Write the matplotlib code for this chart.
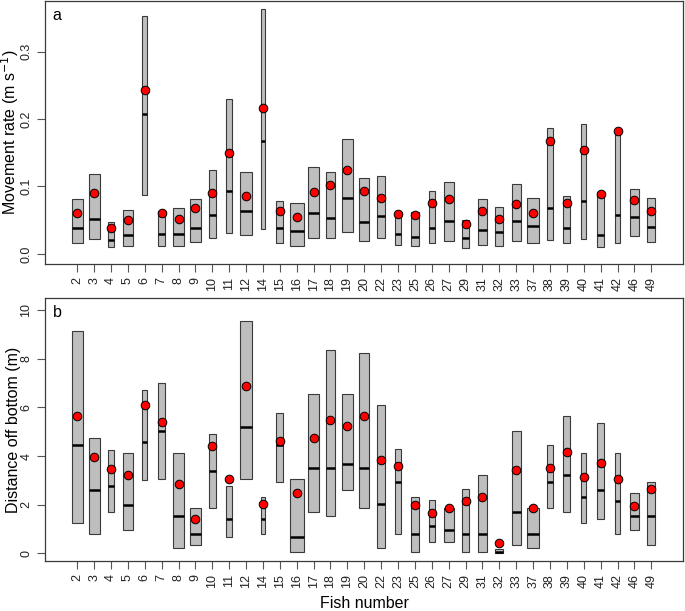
import matplotlib
matplotlib.use("Agg")
import matplotlib.pyplot as plt
from matplotlib.patches import Rectangle

plt.rcParams['font.family'] = ['Liberation Sans', 'DejaVu Sans']

fish = [2, 3, 4, 5, 6, 7, 8, 9, 10, 11, 12, 14, 15, 16, 17, 18, 19, 20, 22, 23,
        25, 26, 27, 29, 31, 32, 33, 37, 38, 39, 40, 41, 42, 46, 49]

# relative box widths (same in both panels)
widths = [0.63, 0.65, 0.30, 0.63, 0.29, 0.41, 0.61, 0.64, 0.45, 0.36, 0.67, 0.26,
          0.43, 0.83, 0.65, 0.52, 0.61, 0.59, 0.49, 0.34, 0.51, 0.34, 0.59, 0.43,
          0.57, 0.48, 0.51, 0.67, 0.34, 0.41, 0.32, 0.40, 0.28, 0.56, 0.49]

# panel a: movement rate (m/s)
rate_low = [0.016, 0.022, 0.010, 0.011, 0.088, 0.012, 0.011, 0.017, 0.023, 0.031,
            0.028, 0.037, 0.016, 0.012, 0.024, 0.023, 0.033, 0.019, 0.024, 0.013,
            0.011, 0.016, 0.019, 0.009, 0.013, 0.012, 0.019, 0.016, 0.020, 0.016,
            0.022, 0.010, 0.016, 0.026, 0.017]
rate_high = [0.082, 0.118, 0.047, 0.065, 0.353, 0.064, 0.068, 0.081, 0.124, 0.230,
             0.121, 0.363, 0.079, 0.075, 0.129, 0.121, 0.171, 0.113, 0.116, 0.064,
             0.062, 0.093, 0.106, 0.050, 0.082, 0.069, 0.104, 0.083, 0.187, 0.086,
             0.193, 0.092, 0.183, 0.096, 0.083]
rate_median = [0.039, 0.051, 0.021, 0.028, 0.207, 0.029, 0.029, 0.038, 0.058, 0.093,
               0.064, 0.168, 0.038, 0.034, 0.061, 0.053, 0.083, 0.048, 0.056, 0.030,
               0.025, 0.039, 0.049, 0.023, 0.036, 0.033, 0.049, 0.041, 0.068, 0.039,
               0.079, 0.028, 0.058, 0.055, 0.040]
rate_mean = [0.061, 0.091, 0.038, 0.050, 0.243, 0.061, 0.051, 0.068, 0.090, 0.150,
             0.086, 0.216, 0.064, 0.055, 0.092, 0.102, 0.124, 0.094, 0.083, 0.059,
             0.058, 0.075, 0.081, 0.045, 0.063, 0.051, 0.074, 0.060, 0.168, 0.076,
             0.154, 0.089, 0.183, 0.080, 0.064]

# panel b: distance off bottom (m)
dist_low = [1.25, 0.80, 1.70, 0.95, 3.00, 3.07, 0.21, 0.34, 1.85, 0.66, 3.07, 0.80,
            2.92, 0.04, 1.70, 1.55, 2.62, 1.85, 0.21, 0.80, 0.04, 0.49, 0.49, 0.04,
            0.04, 0.03, 0.34, 0.21, 1.87, 1.71, 1.25, 1.41, 0.80, 0.95, 0.34]
dist_high = [9.14, 4.73, 4.27, 4.14, 6.71, 7.01, 4.13, 1.87, 4.90, 2.76, 9.57, 2.32,
             5.79, 3.07, 6.56, 8.37, 6.56, 8.22, 6.10, 4.28, 2.32, 2.18, 1.87, 2.63,
             3.22, 0.19, 5.05, 1.87, 4.44, 5.65, 4.13, 5.35, 4.13, 2.47, 2.92]
dist_median = [4.44, 2.62, 2.77, 2.00, 4.58, 5.03, 1.55, 0.80, 3.39, 1.41, 5.21, 1.41,
               4.44, 0.66, 3.53, 3.53, 3.69, 3.53, 2.02, 2.94, 0.80, 1.11, 0.95, 0.80,
               0.80, 0.07, 1.71, 0.80, 2.92, 3.22, 2.32, 2.62, 2.17, 1.55, 1.55]
dist_mean = [5.67, 3.98, 3.46, 3.24, 6.10, 5.42, 2.87, 1.41, 4.42, 3.05, 6.90, 2.02,
             4.62, 2.48, 4.75, 5.49, 5.23, 5.67, 3.83, 3.58, 2.00, 1.67, 1.87, 2.17,
             2.32, 0.44, 3.42, 1.87, 3.51, 4.18, 3.13, 3.73, 3.06, 1.96, 2.66]

pos = list(range(1, len(fish) + 1))
edge = '#3a3a3a'


def draw_panel(ax, low, high, med, mean):
    for x, w, lo, hi, md in zip(pos, widths, low, high, med):
        ax.add_patch(Rectangle((x - w / 2, lo), w, hi - lo, facecolor='#bebebe',
                               edgecolor=edge, linewidth=0.8, zorder=2))
        ax.plot([x - w / 2, x + w / 2], [md, md], color='black', lw=1.8,
                solid_capstyle='butt', zorder=3)
    ax.plot(pos, mean, 'o', ms=6.2, markerfacecolor='red', markeredgecolor='black',
            markeredgewidth=0.7, zorder=4)
    ax.set_xlim(-0.91, 36.88)
    ax.set_xticks(pos)
    ax.set_xticklabels([str(f) for f in fish], rotation=90, fontsize=9)
    for s in ax.spines.values():
        s.set_color(edge)
        s.set_linewidth(0.9)
    ax.tick_params(axis='both', direction='out', length=5.5, width=0.8, color='#555555',
                   labelcolor='#222222')
    ax.tick_params(axis='x', pad=4)
    ax.tick_params(axis='y', pad=3.5, labelsize=9)
    for lab in ax.get_yticklabels():
        lab.set_rotation(90)
        lab.set_va('center')


fig = plt.figure(figsize=(6.85, 6.11), dpi=100)
ax1 = fig.add_axes([0.0657, 0.568, 0.9314, 0.430])
ax2 = fig.add_axes([0.0657, 0.0823, 0.9314, 0.4295])

ax1.set_ylim(-0.015, 0.375)
ax1.set_yticks([0.0, 0.1, 0.2, 0.3])
ax1.set_yticklabels(['0.0', '0.1', '0.2', '0.3'])
draw_panel(ax1, rate_low, rate_high, rate_median, rate_mean)
ax1.set_ylabel('Movement rate (m s$^{-1}$)', fontsize=11.5)
ax1.yaxis.set_label_coords(-0.037, 0.5)
ax1.text(0.012, 0.975, 'a', transform=ax1.transAxes, ha='left', va='top', fontsize=11.5)

ax2.set_ylim(-0.30, 10.49)
ax2.set_yticks([0, 2, 4, 6, 8, 10])
ax2.set_yticklabels(['0', '2', '4', '6', '8', '10'])
draw_panel(ax2, dist_low, dist_high, dist_median, dist_mean)
ax2.set_ylabel('Distance off bottom (m)', fontsize=11.5)
ax2.yaxis.set_label_coords(-0.037, 0.5)
ax2.set_xlabel('Fish number', fontsize=11.5, labelpad=6)
ax2.text(0.012, 0.975, 'b', transform=ax2.transAxes, ha='left', va='top', fontsize=11.5)

fig.savefig('out.png', dpi=100)
